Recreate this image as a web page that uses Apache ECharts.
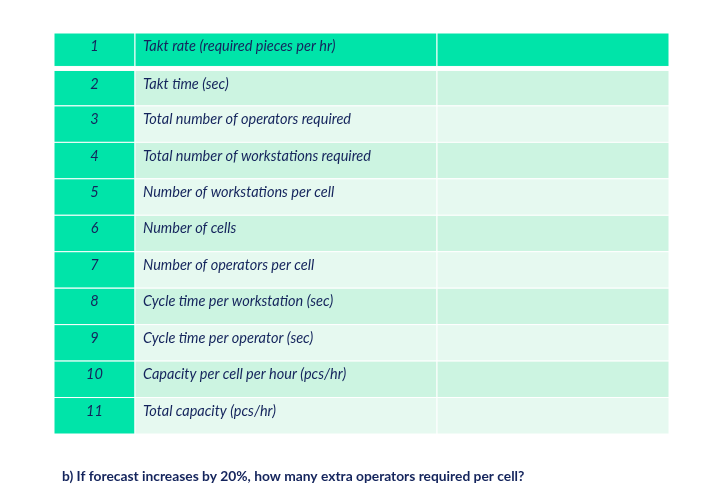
<!DOCTYPE html>
<html><head><meta charset="utf-8">
<script src="https://cdn.jsdelivr.net/npm/echarts@6/dist/echarts.min.js"></script>
<style>html,body{margin:0;padding:0;background:#fff}#c{width:705px;height:497px}</style>
</head><body><div id="c"></div>
<script>
// ---- data ----
var rowNumbers = ['1','2','3','4','5','6','7','8','9','10','11'];
var rowLabels = [
  'Takt rate (required pieces per hr)',
  'Takt time (sec)',
  'Total number of operators required',
  'Total number of workstations required',
  'Number of workstations per cell',
  'Number of cells',
  'Number of operators per cell',
  'Cycle time per workstation (sec)',
  'Cycle time per operator (sec)',
  'Capacity per cell per hour (pcs/hr)',
  'Total capacity (pcs/hr)'
];
var rowValues = ['', '', '', '', '', '', '', '', '', '', ''];
var footerText = 'b) If forecast increases by 20%, how many extra operators required per cell?';

// ---- layout (not data) ----
var colEdges = [0, 81, 383, 615];
var headGreen = '#00E4A9', rowDark = '#CCF4E1', rowLight = '#E6F9F0', ink = '#14245C';

var cells = [];
rowNumbers.forEach(function (n, i) {
  cells.push([0, i, n]);
  cells.push([1, i, rowLabels[i]]);
  cells.push([2, i, rowValues[i]]);
});

var chart = echarts.init(document.getElementById('c'));
chart.setOption({
  animation: false,
  title: {
    text: footerText, left: 57, top: 465,
    textStyle: { fontFamily: 'Lato', fontWeight: 'bold', fontSize: 13.8, color: ink }
  },
  grid: { left: 54, right: 36, top: 33, bottom: 63 },
  xAxis: { type: 'value', min: 0, max: 615, show: false },
  yAxis: { type: 'value', min: 0, max: rowNumbers.length, inverse: true, show: false },
  series: [{
    type: 'custom',
    data: cells,
    renderItem: function (params, api) {
      var c = api.value(0), r = api.value(1);
      var txt = cells[params.dataIndex][2];
      var p0 = api.coord([colEdges[c], r]);
      var p1 = api.coord([colEdges[c + 1], r + 1]);
      var x = p0[0], y = p0[1], w = p1[0] - p0[0], h = p1[1] - p0[1];
      if (r === 0) { h -= 3; }
      if (r === 1) { y += 1; h -= 1; }
      var fill;
      if (c === 0 || r === 0) fill = headGreen;
      else fill = (r % 2 === 1) ? rowDark : rowLight;
      var children = [{
        type: 'rect',
        shape: { x: x, y: y, width: w, height: h },
        style: { fill: fill, stroke: '#ffffff', lineWidth: 1 }
      }];
      if (txt) {
        children.push({
          type: 'text',
          style: {
            text: txt,
            x: c === 0 ? x + w / 2 : x + 8,
            y: y + 13.5,
            align: c === 0 ? 'center' : 'left',
            verticalAlign: 'middle',
            fill: ink,
            font: 'italic 14.5px Lato'
          }
        });
      }
      return { type: 'group', children: children };
    }
  }]
});
</script></body></html>
